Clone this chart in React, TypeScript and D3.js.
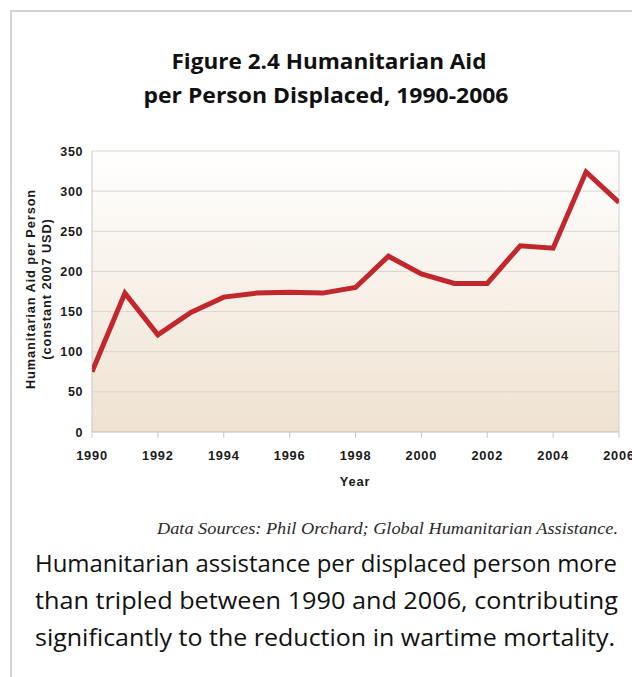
import React from "react";
import * as d3 from "d3";

const years = [1990, 1991, 1992, 1993, 1994, 1995, 1996, 1997, 1998, 1999, 2000, 2001, 2002, 2003, 2004, 2005, 2006];
const aidPerPerson = [75, 173, 121, 149, 168, 173, 174, 173, 180, 219, 197, 185, 185, 232, 229, 324, 286];
const yTicks = [0, 50, 100, 150, 200, 250, 300, 350];
const xTicks = [1990, 1992, 1994, 1996, 1998, 2000, 2002, 2004, 2006];

const titleLines = ["Figure 2.4 Humanitarian Aid", "per Person Displaced, 1990-2006"];
const yTitleLines = ["Humanitarian Aid per Person", "(constant 2007 USD)"];
const sourceText = "Data Sources: Phil Orchard; Global Humanitarian Assistance.";
const captionLines = [
  "Humanitarian assistance per displaced person more",
  "than tripled between 1990 and 2006, contributing",
  "significantly to the reduction in wartime mortality.",
];

const W = 632;
const H = 677;
const plot = { left: 92, right: 619, top: 151, bottom: 432 };

export default function App() {
  const x = d3.scaleLinear().domain([1990, 2006]).range([plot.left, plot.right]);
  const y = d3.scaleLinear().domain([0, 350]).range([plot.bottom, plot.top]);
  const line = d3
    .line<number>()
    .x((_, i) => x(years[i]))
    .y((d) => y(d));
  const axisFont = "'Liberation Sans', Arial, sans-serif";
  const bodyFont = "'Open Sans', 'Noto Sans', sans-serif";

  return (
    <svg
      width={W}
      height={H}
      style={{ position: "absolute", left: 0, top: 0, background: "#fff" }}
    >
      <defs>
        <linearGradient id="bgGrad" x1="0" y1="0" x2="0" y2="1">
          <stop offset="0%" stopColor="#ffffff" />
          <stop offset="100%" stopColor="#efe2d1" />
        </linearGradient>
        <clipPath id="plotClip">
          <rect x={plot.left} y={plot.top - 10} width={plot.right - plot.left} height={plot.bottom - plot.top + 20} />
        </clipPath>
      </defs>

      {/* page frame */}
      <line x1={11} y1={11} x2={W} y2={11} stroke="#d4d4d4" strokeWidth={2} />
      <line x1={11} y1={10} x2={11} y2={H} stroke="#d4d4d4" strokeWidth={2} />

      {/* title */}
      {titleLines.map((t, i) => (
        <text
          key={t}
          x={i === 0 ? 329 : 326}
          y={69 + i * 34}
          textAnchor="middle"
          fontFamily={bodyFont}
          fontWeight={700}
          fontSize={20.5}
          fill="#111"
          textLength={i === 0 ? 315 : 365}
          lengthAdjust="spacingAndGlyphs"
        >
          {t}
        </text>
      ))}

      {/* plot background */}
      <rect
        x={plot.left}
        y={plot.top}
        width={plot.right - plot.left}
        height={plot.bottom - plot.top}
        fill="url(#bgGrad)"
      />

      {/* gridlines */}
      {yTicks.map((t) => (
        <line
          key={t}
          x1={plot.left}
          x2={plot.right}
          y1={y(t)}
          y2={y(t)}
          stroke={t === 0 ? "#bbb" : "#dcd6cf"}
          strokeWidth={1}
        />
      ))}
      <line x1={plot.right} x2={plot.right} y1={plot.top} y2={plot.bottom} stroke="#d0d0d0" />
      <line x1={plot.left} x2={plot.left} y1={plot.top} y2={plot.bottom} stroke="#c8c8c8" />

      {/* x tick marks */}
      {xTicks.map((t) => (
        <line key={t} x1={x(t)} x2={x(t)} y1={plot.bottom} y2={plot.bottom + 6} stroke="#c8c8c8" />
      ))}

      {/* y tick labels */}
      {yTicks.map((t) => (
        <text
          key={t}
          x={83}
          y={y(t) + 4.5}
          textAnchor="end"
          fontFamily={axisFont}
          fontWeight={700}
          fontSize={12.5}
          letterSpacing={0.6}
          fill="#1a1a1a"
        >
          {t}
        </text>
      ))}

      {/* x tick labels */}
      {xTicks.map((t) => (
        <text
          key={t}
          x={x(t)}
          y={459.5}
          textAnchor="middle"
          fontFamily={axisFont}
          fontWeight={700}
          fontSize={12.8}
          letterSpacing={0.8}
          fill="#1a1a1a"
        >
          {t}
        </text>
      ))}

      {/* axis titles */}
      <text
        x={355}
        y={486}
        textAnchor="middle"
        fontFamily={axisFont}
        fontWeight={700}
        fontSize={12.8}
        letterSpacing={0.9}
        fill="#1a1a1a"
      >
        Year
      </text>
      {yTitleLines.map((t, i) => (
        <text
          key={t}
          transform={`translate(${34.5 + i * 16.5},${289}) rotate(-90)`}
          textAnchor="middle"
          fontFamily={axisFont}
          fontWeight={700}
          fontSize={12.8}
          letterSpacing={0.9}
          fill="#1a1a1a"
        >
          {t}
        </text>
      ))}

      {/* data line */}
      <path
        d={line(aidPerPerson) ?? ""}
        fill="none"
        stroke="#c1272d"
        strokeWidth={5}
        strokeLinejoin="miter"
        clipPath="url(#plotClip)"
      />

      {/* source note */}
      <text
        x={618}
        y={534}
        textAnchor="end"
        fontFamily="'Liberation Serif', 'DejaVu Serif', serif"
        fontStyle="italic"
        fontSize={17}
        fill="#2a2a2a"
        textLength={461}
        lengthAdjust="spacingAndGlyphs"
      >
        {sourceText}
      </text>

      {/* caption */}
      {captionLines.map((t, i) => (
        <text
          key={t}
          x={35}
          y={572 + i * 37}
          fontFamily={bodyFont}
          fontSize={24}
          fill="#111"
          textLength={[582, 583, 580][i]}
          lengthAdjust="spacingAndGlyphs"
        >
          {t}
        </text>
      ))}
    </svg>
  );
}
